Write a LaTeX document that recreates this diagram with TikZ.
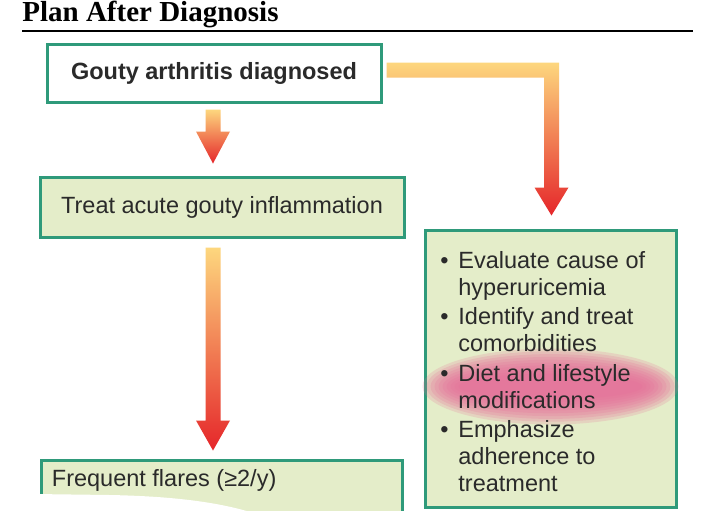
\documentclass[tikz,border=0pt]{standalone}
\usepackage{fontspec}
\setmainfont{Liberation Serif}
\setsansfont{Liberation Sans}
\usepackage{tikz}
\usetikzlibrary{positioning, calc, shapes}

\definecolor{boxline}{HTML}{2F9A7A}
\definecolor{boxfill}{HTML}{E4EDC9}
\definecolor{arrtop}{HTML}{FDD77E}
\definecolor{arrmid}{HTML}{F8A24C}
\definecolor{arrbot}{HTML}{E5262A}
\definecolor{glowpink}{HTML}{E86C98}
\definecolor{txt}{HTML}{2A2A2A}

\tikzset{
	box/.style={draw=boxline, line width=1.5pt, fill=boxfill, inner sep=0pt},
	bodytext/.style={font=\sffamily\fontsize{11.75}{14}\selectfont, text=txt, inner sep=0pt},
	arrowshade/.style={top color=arrtop, middle color=arrmid, bottom color=arrbot}
}

% fat arrow pointing down: start, tip, head length
\newcommand{\fatarrow}[3]{%
	\shade[arrowshade] ($(#1)+(-7.5,0)$) -- ($(#1)+(7.5,0)$) -- ($(#2)+(7.5,-#3)$) -- ($(#2)+(17,-#3)$)
	-- (#2) -- ($(#2)+(-17,-#3)$) -- ($(#2)+(-7.5,-#3)$) -- cycle;}

\begin{document}
\begin{tikzpicture}[x=0.5pt, y=-0.5pt]
	
	\useasboundingbox (0,0) rectangle (712,510);
	\clip (0,0) rectangle (712,510);
	\fill[white] (0,0) rectangle (712,510);
	
	%//heading
	\node [anchor=base west, inner sep=0pt, font=\bfseries\fontsize{14.5}{16}\selectfont] (title) at (22,21) {Plan After Diagnosis};
	\draw [line width=1pt] (22,31) -- (693,31);
	
	%//boxes
	\node [box, fill=white, minimum width=167pt, minimum height=29pt, bodytext, font=\sffamily\bfseries\fontsize{11.75}{14}\selectfont] (diag) at (214,73) {Gouty arthritis diagnosed};
	\node [box, minimum width=182pt, minimum height=30pt, bodytext] (treat) at (222,207) {Treat acute gouty inflammation};
	\node [box, minimum width=125.5pt, minimum height=138.5pt] (eval) at (550.5,368.5) {};
	\node [box, minimum width=180.5pt, minimum height=40pt] (flares) at (221.5,500) {};
	\node [bodytext, anchor=base west] (flarestxt) at ($(flares.north west)+(12,28)$) {Frequent flares (≥2/y)};
	
	% erased bit at the bottom
	\fill[white] (34,494) -- (110,495) .. controls (160,496) and (210,500) .. (250,512) -- (34,512) -- cycle;
	
	%//arrows
	\coordinate (a1s) at ($(diag.south)+(-1,6)$);
	\coordinate (a1e) at ($(treat.north)+(-9,-12)$);
	\coordinate (a2s) at ($(treat.south)+(-9,9)$);
	\coordinate (a2e) at ($(flares.north)+(-8.5,-8)$);
	\fatarrow{a1s}{a1e}{32}
	\fatarrow{a2s}{a2e}{30}
	
	\coordinate (a3s) at ($(diag.east)+(4,-3)$);
	\coordinate (a3e) at ($(eval.north)+(1,-13)$);
	\coordinate (a3c) at (a3e |- a3s);
	\shade[arrowshade] ($(a3s)+(0,-7.5)$) -- ($(a3c)+(7.5,-7.5)$) -- ($(a3e)+(7.5,-28)$) -- ($(a3e)+(17,-28)$)
	-- (a3e) -- ($(a3e)+(-17,-28)$) -- ($(a3e)+(-7.5,-28)$) -- ($(a3c)+(-7.5,7.5)$) -- ($(a3s)+(0,7.5)$) -- cycle;
	
	%//highlight
	\coordinate (glow) at ($(eval.center)+(0,18)$);
	\foreach \k in {0,1,2,3,4,5,6,7,8,9}
	\fill [glowpink, opacity=0.2] (glow) ellipse [x radius={128-4*\k}, y radius={38-2.8*\k}];
	
	%//list
	\foreach \n/\y/\txt in {1/268/Evaluate cause of, 2/295/hyperuricemia, 3/324/Identify and treat, 4/351/comorbidities, 5/381/Diet and lifestyle, 6/408/modifications, 7/437/Emphasize, 8/464/adherence to, 9/491/treatment}
	\node [bodytext, anchor=base west] (ev\n) at (458,\y) {\txt};
	
	\foreach \n/\y in {1/268, 3/324, 5/381, 7/437}
	\node [bodytext, anchor=base west] (bu\n) at (440,\y) {\textbullet};
	
\end{tikzpicture}
\end{document}
